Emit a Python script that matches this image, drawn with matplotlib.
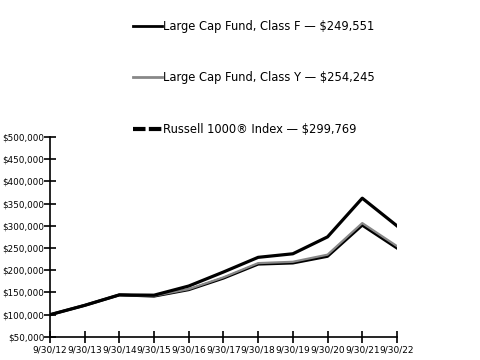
import matplotlib.pyplot as plt
from matplotlib.lines import Line2D
from matplotlib.ticker import FuncFormatter

years = ["9/30/12", "9/30/13", "9/30/14", "9/30/15", "9/30/16", "9/30/17",
         "9/30/18", "9/30/19", "9/30/20", "9/30/21", "9/30/22"]
class_f = [100000, 121000, 144500, 141500, 156000, 182000, 213500, 216000, 231000, 301000, 249551]
class_y = [100000, 121500, 145000, 142500, 157500, 184000, 216000, 219000, 235000, 306000, 254245]
russell = [100000, 121000, 144600, 143900, 164500, 196000, 229000, 237000, 275000, 362000, 299769]

plt.rcParams["font.family"] = ["DejaVu Sans"]

fig = plt.figure(figsize=(4.8, 3.6), dpi=100)
ax = fig.add_axes([0.104, 0.064, 0.723, 0.556])

x = range(len(years))
ax.plot(x, class_f, color="black", linewidth=2.0)
ax.plot(x, class_y, color="#888888", linewidth=1.6)
ax.plot(x, russell, color="black", linewidth=2.3)

ax.set_xlim(0, len(years) - 1)
ax.set_ylim(50000, 500000)
ax.set_xticks(list(x))
ax.set_xticklabels(years)
ax.set_yticks(range(50000, 500001, 50000))
ax.yaxis.set_major_formatter(FuncFormatter(lambda v, p: "${:,.0f}".format(v)))
ax.tick_params(axis="both", direction="inout", length=8, width=1.2, labelsize=6.5, pad=2)
ax.tick_params(axis="y", pad=0, labelsize=6.3)
for s in ["top", "right"]:
    ax.spines[s].set_visible(False)
for s in ["left", "bottom"]:
    ax.spines[s].set_linewidth(1.2)

handles = [
    Line2D([], [], color="black", linewidth=2.0),
    Line2D([], [], color="#888888", linewidth=2.0),
    Line2D([], [], color="black", linewidth=3.0, dashes=(3, 0.8)),
]
labels = ["Large Cap Fund, Class F \u2014 $249,551",
          "Large Cap Fund, Class Y \u2014 $254,245",
          "Russell 1000\u00ae Index \u2014 $299,769"]
fig.legend(handles, labels, loc="upper left", bbox_to_anchor=(0.255, 0.972),
           frameon=False, fontsize=8.3, labelspacing=3.3, handlelength=2.5,
           handletextpad=0.15)

fig.savefig("out.png", dpi=100)
